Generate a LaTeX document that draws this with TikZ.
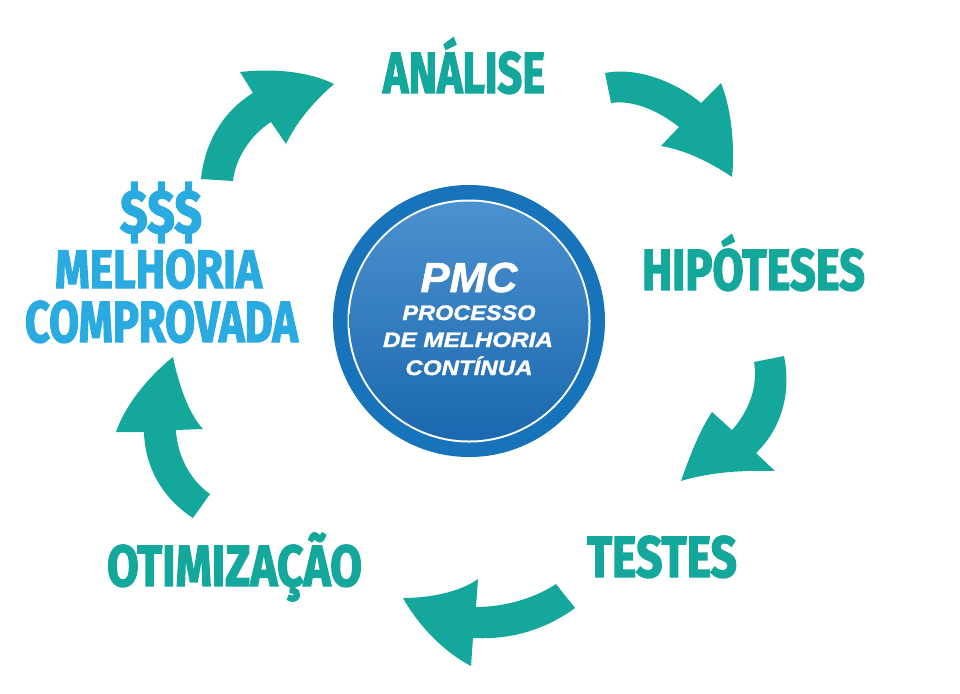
\documentclass[tikz,border=0pt]{standalone}
\usepackage{fontspec}
\usepackage{graphicx}
\newfontfamily\headfont[BoldFeatures={FakeBold=2.5}]{Fira Sans}
\newfontfamily\circfont[BoldItalicFeatures={FakeBold=1.5}]{Liberation Sans}
\definecolor{tealc}{HTML}{14A89C}
\definecolor{lblue}{HTML}{29ABE2}
\definecolor{ringblue}{HTML}{1774BB}
\definecolor{disktop}{HTML}{4C91CF}
\definecolor{diskbot}{HTML}{1A68AE}
\newcommand\fitw[2]{\resizebox{#1}{\height}{#2}}
\tikzset{
  lbl/.style={inner sep=0pt, anchor=base, font=\headfont\bfseries\fontsize{58}{60}\selectfont},
  clbl/.style={inner sep=0pt, anchor=base, text=white, font=\circfont\bfseries\itshape},
  arrowshape/.style={fill=tealc, draw=none}
}
\begin{document}
\begin{tikzpicture}[x=1pt,y=-1pt]
\useasboundingbox (0,0) rectangle (960,693);
% central circle
\node[circle, fill=ringblue, minimum size=272pt, inner sep=0pt] (ring) at (469,321) {};
\fill[white] (ring.center) circle (121.5);
\shade[top color=disktop, bottom color=diskbot] (ring.center) circle (119.5);
\node[clbl, font=\circfont\bfseries\itshape\fontsize{42}{44}\selectfont] (pmc) at (469,292) {\fitw{97pt}{PMC}};
\node[clbl, font=\circfont\bfseries\itshape\fontsize{21}{23}\selectfont] (processo) at (469,320) {\fitw{133pt}{PROCESSO}};
\node[clbl, font=\circfont\bfseries\itshape\fontsize{21}{23}\selectfont] (demelhoria) at (468,347) {\fitw{170pt}{DE MELHORIA}};
\node[clbl, font=\circfont\bfseries\itshape\fontsize{21}{23}\selectfont] (continua) at (469,375) {\fitw{127pt}{CONTÍNUA}};
% labels
\node[lbl, text=tealc] (analise) at (464,93) {\fitw{162pt}{ANÁLISE}};
\node[lbl, text=tealc] (hipoteses) at (753.5,290) {\fitw{223pt}{HIPÓTESES}};
\node[lbl, text=tealc] (testes) at (662,577) {\fitw{150pt}{TESTES}};
\node[lbl, text=tealc] (otimizacao) at (234.5,586) {\fitw{255pt}{OTIMIZAÇÃO}};
\node[inner sep=0pt, text=lblue, font=\headfont\bfseries] (dollars) at (161,212.5) {\resizebox{82pt}{51pt}{\$\$\$}};
\node[lbl, text=lblue, font=\headfont\bfseries\fontsize{54}{56}\selectfont] (melhoria) at (158.5,288) {\fitw{207pt}{MELHORIA}};
\node[lbl, text=lblue] (comprovada) at (161.5,342) {\fitw{273pt}{COMPROVADA}};
% arrow 1: analise -> hipoteses
\fill[arrowshape] (605,73) .. controls (640,66) and (680,85) .. (701,103)
  -- (721,83) .. controls (732,110) and (735,150) .. (732,177)
  .. controls (710,162) and (685,150) .. (661,146)
  -- (679,127) .. controls (655,108) and (630,100) .. (611,103) -- cycle;
% arrow 2: melhoria -> analise
\fill[arrowshape] (201,179) .. controls (205,140) and (225,110) .. (253,93)
  -- (240,72) .. controls (275,68) and (310,72) .. (334,84)
  .. controls (310,105) and (295,125) .. (286,144)
  -- (271,122) .. controls (250,135) and (235,160) .. (233,181) -- cycle;
% arrow 3: hipoteses -> testes
\fill[arrowshape] (784,356) .. controls (792,395) and (780,430) .. (756,453)
  -- (775,471) .. controls (745,470) and (710,472) .. (681,481)
  .. controls (690,455) and (700,430) .. (712,412)
  -- (732,430) .. controls (750,410) and (758,385) .. (754,362) -- cycle;
% arrow 4: testes -> otimizacao
\fill[arrowshape] (575,608) .. controls (545,630) and (510,640) .. (473,638)
  -- (471,666) .. controls (440,650) and (415,620) .. (403,598)
  .. controls (430,598) and (460,592) .. (478,579)
  -- (476,607) .. controls (505,607) and (535,598) .. (556,584) -- cycle;
% arrow 5: otimizacao -> melhoria
\fill[arrowshape] (193,518) .. controls (165,500) and (145,470) .. (144,432)
  -- (116,432) .. controls (125,405) and (150,375) .. (173,357)
  .. controls (180,390) and (190,415) .. (203,429)
  -- (176,430) .. controls (177,455) and (190,480) .. (210,494) -- cycle;
\end{tikzpicture}
\end{document}
